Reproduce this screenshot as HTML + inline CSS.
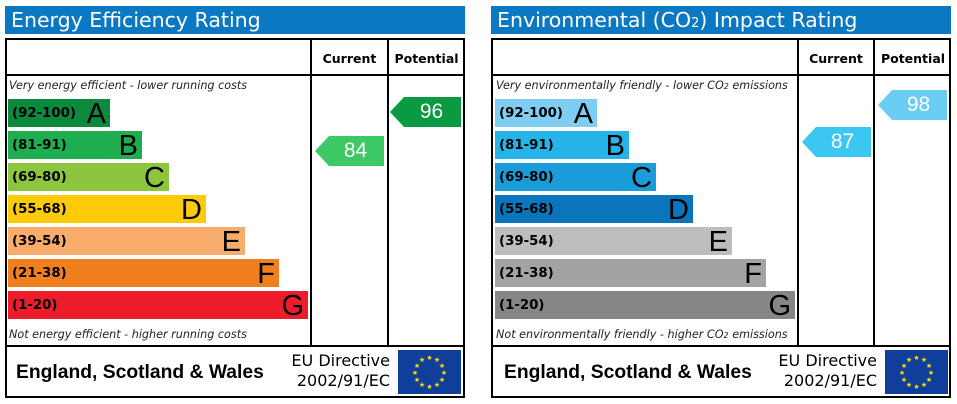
<!DOCTYPE html>
<html><head><meta charset="utf-8"><style>
body{margin:0;width:957px;height:404px;background:#fff;position:relative;overflow:hidden;font-family:"DejaVu Sans","Liberation Sans",sans-serif}
div{position:absolute;box-sizing:border-box}
.title{height:28px;top:6px;background:#0a78c2;color:#fff;font-size:20.5px;line-height:29px;padding-left:6px;width:460px}
.box{top:38px;width:460px;height:360px;border:2px solid #000}
.vl{top:38px;width:2px;height:309px;background:#000}
.hl{height:2px;background:#000;width:460px}
.hd{top:51px;font-size:12.5px;font-weight:bold;text-align:center}
.bar{height:28px;color:#000}
.bar .r{left:4px;top:0;font-size:13.3px;font-weight:bold;line-height:29px}
.bar .l{right:4px;top:0;font-family:"Liberation Sans",sans-serif;font-size:29px;line-height:30px}
.it{font-style:italic;font-size:11.2px;color:#222}
.ar{height:30px;color:#fff;font-family:"Liberation Sans",sans-serif;font-size:21px;line-height:30px;text-align:center;padding-left:12px;clip-path:polygon(0 50%,14px 0,100% 0,100% 100%,14px 100%)}
.ft{font-family:"Liberation Sans",sans-serif;font-weight:bold;font-size:19.3px;top:362px}
.eu{font-size:16px;line-height:20px;text-align:right;top:351px}
.flag{top:350px;width:63px;height:44px;background:#0f3f9a}
</style></head><body>
<!-- LEFT -->
<div class="title" style="left:5px">Energy Efficiency Rating</div>
<div class="box" style="left:5px"></div>
<div class="vl" style="left:310px"></div><div class="vl" style="left:387px"></div>
<div class="hl" style="left:5px;top:74px"></div>
<div class="hl" style="left:5px;top:345px"></div>
<div class="hd" style="left:312px;width:75px">Current</div>
<div class="hd" style="left:389px;width:75px">Potential</div>
<div class="it" style="left:9px;top:79px">Very energy efficient - lower running costs</div>
<div class="it" style="left:9px;top:328px">Not energy efficient - higher running costs</div>
<div class="bar" style="left:8px;top:99px;width:102px;background:#0b8a3d"><div class="r">(92-100)</div><div class="l">A</div></div>
<div class="bar" style="left:8px;top:131px;width:134px;background:#1fae4f"><div class="r">(81-91)</div><div class="l">B</div></div>
<div class="bar" style="left:8px;top:163px;width:161px;background:#8cc63f"><div class="r">(69-80)</div><div class="l">C</div></div>
<div class="bar" style="left:8px;top:195px;width:198px;background:#fecb0a"><div class="r">(55-68)</div><div class="l">D</div></div>
<div class="bar" style="left:8px;top:227px;width:237px;background:#f7ac6b"><div class="r">(39-54)</div><div class="l">E</div></div>
<div class="bar" style="left:8px;top:259px;width:271px;background:#f0801f"><div class="r">(21-38)</div><div class="l">F</div></div>
<div class="bar" style="left:8px;top:291px;width:300px;background:#ec1c2a"><div class="r">(1-20)</div><div class="l">G</div></div>
<div class="ar" style="left:315px;top:136px;width:69px;background:#3cc864">84</div>
<div class="ar" style="left:390px;top:97px;width:71px;background:#0a9a42">96</div>
<div class="ft" style="left:16px">England, Scotland &amp; Wales</div>
<div class="eu" style="left:268px;width:122px">EU Directive<br>2002/91/EC</div>
<div class="flag" style="left:398px"><svg width="63" height="44"><g fill="#ffdd00" font-size="7" text-anchor="middle"><text x="31.5" y="10">★</text><text x="39" y="12">★</text><text x="44" y="18">★</text><text x="46" y="25">★</text><text x="44" y="32">★</text><text x="39" y="37">★</text><text x="31.5" y="39">★</text><text x="24" y="37">★</text><text x="19" y="32">★</text><text x="17" y="25">★</text><text x="19" y="18">★</text><text x="24" y="12">★</text></g></svg></div>
<!-- RIGHT -->
<div class="title" style="left:491px">Environmental (CO<sub style="font-size:13px;vertical-align:baseline">2</sub>) Impact Rating</div>
<div class="box" style="left:491px"></div>
<div class="vl" style="left:797px"></div><div class="vl" style="left:873px"></div>
<div class="hl" style="left:491px;top:74px"></div>
<div class="hl" style="left:491px;top:345px"></div>
<div class="hd" style="left:799px;width:74px">Current</div>
<div class="hd" style="left:875px;width:76px">Potential</div>
<div class="it" style="left:496px;top:79px">Very environmentally friendly - lower CO<span style="font-size:8px">2</span> emissions</div>
<div class="it" style="left:496px;top:328px">Not environmentally friendly - higher CO<span style="font-size:8px">2</span> emissions</div>
<div class="bar" style="left:495px;top:99px;width:102px;background:#7fcdf2"><div class="r">(92-100)</div><div class="l">A</div></div>
<div class="bar" style="left:495px;top:131px;width:134px;background:#25b3e8"><div class="r">(81-91)</div><div class="l">B</div></div>
<div class="bar" style="left:495px;top:163px;width:161px;background:#1a9cd8"><div class="r">(69-80)</div><div class="l">C</div></div>
<div class="bar" style="left:495px;top:195px;width:198px;background:#0a75bd"><div class="r">(55-68)</div><div class="l">D</div></div>
<div class="bar" style="left:495px;top:227px;width:237px;background:#bcbdbf"><div class="r">(39-54)</div><div class="l">E</div></div>
<div class="bar" style="left:495px;top:259px;width:271px;background:#a2a3a5"><div class="r">(21-38)</div><div class="l">F</div></div>
<div class="bar" style="left:495px;top:291px;width:300px;background:#858688"><div class="r">(1-20)</div><div class="l">G</div></div>
<div class="ar" style="left:802px;top:127px;width:69px;background:#3cc6f2">87</div>
<div class="ar" style="left:878px;top:90px;width:69px;background:#6ccdf4">98</div>
<div class="ft" style="left:504px">England, Scotland &amp; Wales</div>
<div class="eu" style="left:755px;width:122px">EU Directive<br>2002/91/EC</div>
<div class="flag" style="left:885px"><svg width="63" height="44"><g fill="#ffdd00" font-size="7" text-anchor="middle"><text x="31.5" y="10">★</text><text x="39" y="12">★</text><text x="44" y="18">★</text><text x="46" y="25">★</text><text x="44" y="32">★</text><text x="39" y="37">★</text><text x="31.5" y="39">★</text><text x="24" y="37">★</text><text x="19" y="32">★</text><text x="17" y="25">★</text><text x="19" y="18">★</text><text x="24" y="12">★</text></g></svg></div>
</body></html>
